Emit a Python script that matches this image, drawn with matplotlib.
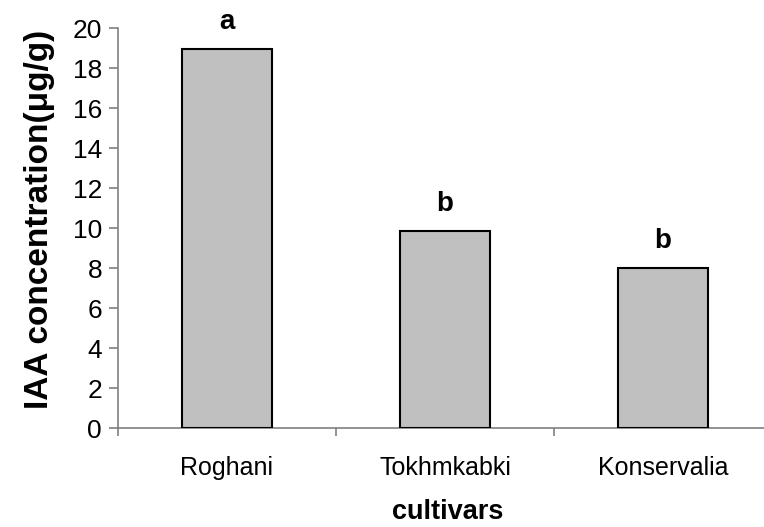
import matplotlib
matplotlib.use("Agg")
import matplotlib.pyplot as plt
import numpy as np

plt.rcParams['font.family'] = ['Liberation Sans', 'DejaVu Sans']

categories = ["Roghani", "Tokhmkabki", "Konservalia"]
values = [18.95, 9.85, 8.0]
letters = ["a", "b", "b"]
yticks = [0, 2, 4, 6, 8, 10, 12, 14, 16, 18, 20]

W, H = 764, 527
fig = plt.figure(figsize=(W/100, H/100), dpi=100)
ax = fig.add_axes([118/W, 1-428/H, (772-118)/W, 400/H])

x = np.arange(len(categories))
ax.bar(x, values, width=0.41, color="#C0C0C0", edgecolor="black", linewidth=1.5, zorder=3)
for xi, v, l in zip(x, values, letters):
    ax.text(xi, v + 1.0, l, ha="center", va="baseline", fontsize=20, fontweight="bold")

ax.set_xlim(-0.5, 2.5)
ax.set_ylim(0, 20)
ax.set_yticks(yticks)
ax.set_yticklabels([str(t) for t in yticks], fontsize=19)
ax.set_xticks([-0.5, 0.5, 1.5, 2.5])
ax.set_xticklabels([])
ax.set_xticks(x, minor=True)
ax.set_xticklabels(categories, minor=True, fontsize=18)
ax.tick_params(axis="x", which="minor", length=0, pad=20)
ax.tick_params(axis="x", which="major", length=6, width=1.2, direction="out", color="#808080")
ax.tick_params(axis="y", length=6.5, width=1.2, direction="out", color="#808080", pad=5)

for s in ["top", "right"]:
    ax.spines[s].set_visible(False)
for s in ["left", "bottom"]:
    ax.spines[s].set_color("#808080")
    ax.spines[s].set_linewidth(1.2)

fig.text(40/W, 1-219/H, "IAA concentration(μg/g)", rotation=90, ha="center", va="center",
         fontsize=24, fontweight="bold")
fig.text(448/W, 1-519/H, "cultivars", ha="center", va="baseline", fontsize=19.5, fontweight="bold")

fig.savefig("out.png", dpi=100)
